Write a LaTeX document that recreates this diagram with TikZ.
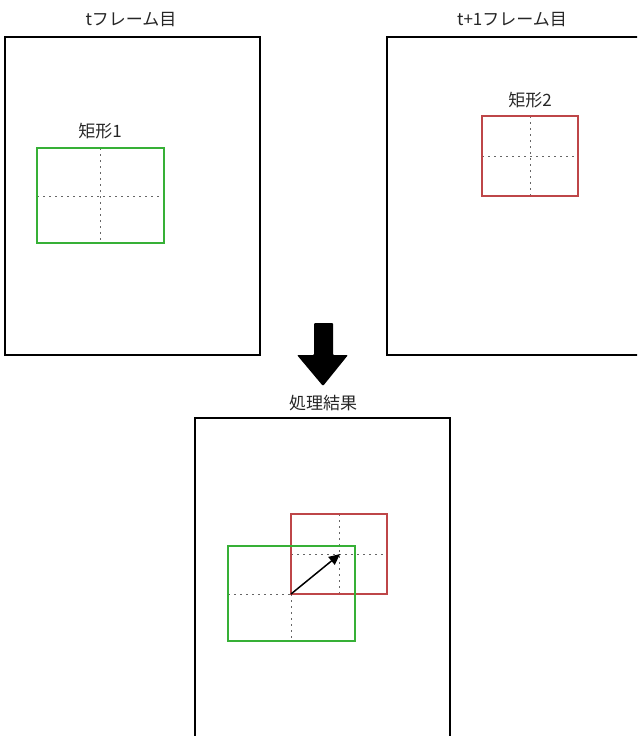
\documentclass[tikz,border=0pt]{standalone}
\usepackage{fontspec}
\setmainfont{Noto Sans CJK JP}
\usetikzlibrary{arrows.meta}
\definecolor{gr}{RGB}{54,176,54}
\definecolor{rd}{RGB}{190,70,72}
\begin{document}
\begin{tikzpicture}[x=1pt,y=-1pt,
  frame/.style={draw=black,line width=1.4pt,fill=white},
  grid/.style={draw=black!60,line width=1pt,dash pattern=on 2pt off 4pt},
  lbl/.style={font=\fontsize{17}{20}\selectfont,text=black!85,inner sep=0pt},
  grect/.style={draw=gr,line width=1.5pt},
  rrect/.style={draw=rd,line width=1.5pt}]
\useasboundingbox (0,0) rectangle (637,736);
\clip (0,0) rectangle (637,736);
% frames
\draw[frame] (5,37) coordinate (f1a) rectangle (260,355) coordinate (f1b);
\draw[frame] (387,37) rectangle (660,355);
\draw[frame] (195,418) rectangle (450,760);
\node[lbl] (t1) at (131,20) {tフレーム目};
\node[lbl] (t2) at (512,20) {t+1フレーム目};
\node[lbl] (t3) at (323,403) {処理結果};
% rect 1
\node[lbl] (l1) at (100,131) {矩形1};
\draw[grid] (100,148) -- (100,243);
\draw[grid] (37,196) -- (164,196);
\draw[grect] (37,148) rectangle (164,243);
% rect 2
\node[lbl] (l2) at (530,100) {矩形2};
\draw[grid] (530,116) -- (530,196);
\draw[grid] (482,156) -- (578,156);
\draw[rrect] (482,116) rectangle (578,196);
% big arrow
\fill[black,rounded corners=1pt] (314,323) -- (333,323) -- (333,355) -- (348,355) -- (323,386) -- (297,355) -- (314,355) -- cycle;
% result
\draw[grid] (291,546) -- (291,641);
\draw[grid] (228,594) -- (355,594);
\draw[grid] (339,514) -- (339,594);
\draw[grid] (291,554) -- (387,554);
\draw[rrect] (291,514) rectangle (387,594);
\draw[grect] (228,546) rectangle (355,641);
\coordinate (c1) at (291,594);
\coordinate (c2) at (340,554);
\draw[line width=1.5pt,-{Triangle[length=11pt,width=10pt]}] (c1) -- (c2);
\end{tikzpicture}
\end{document}
